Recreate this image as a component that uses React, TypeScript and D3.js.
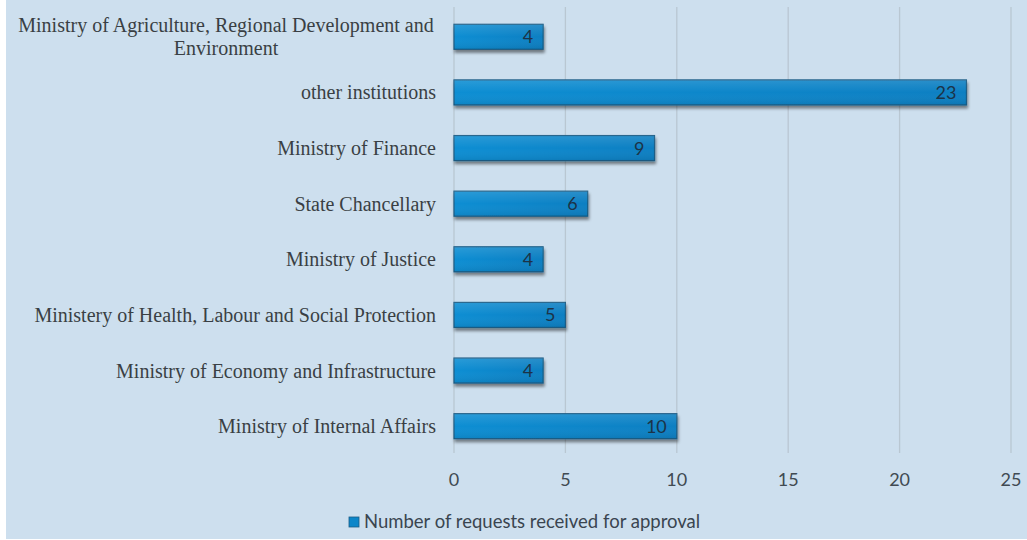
import React from "react";
import * as d3 from "d3";

const categories = [
  "Ministry of Agriculture, Regional Development and|Environment",
  "other institutions",
  "Ministry of Finance",
  "State Chancellary",
  "Ministry of Justice",
  "Ministery of Health, Labour and Social Protection",
  "Ministry of Economy and Infrastructure",
  "Ministry of Internal Affairs",
];
const values = [4, 23, 9, 6, 4, 5, 4, 10];
const xTicks = [0, 5, 10, 15, 20, 25];
const seriesName = "Number of requests received for approval";

const W = 1027;
const H = 540;
const M = { left: 454, right: 16, top: 9, bottom: 86 };

export default function App() {
  const x = d3.scaleLinear().domain([0, 25]).range([M.left, 1011]);
  const y = d3
    .scaleBand<string>()
    .domain(categories)
    .range([M.top, H - M.bottom])
    .paddingInner(0.55)
    .paddingOuter(0.275);
  const bh = y.bandwidth();
  const sans = "Lato, 'Open Sans', sans-serif";
  const serif = "'Liberation Serif', 'Times New Roman', serif";
  return (
    <svg
      width={W}
      height={H}
      style={{ position: "absolute", left: 0, top: 0 }}
    >
      <defs>
        <linearGradient id="barg" x1="0" y1="0" x2="1" y2="0">
          <stop offset="0" stopColor="#0f8ed3" />
          <stop offset="1" stopColor="#0a7fc2" />
        </linearGradient>
        <linearGradient id="barv" x1="0" y1="0" x2="0" y2="1">
          <stop offset="0" stopColor="#ffffff" stopOpacity="0.12" />
          <stop offset="0.5" stopColor="#ffffff" stopOpacity="0" />
          <stop offset="1" stopColor="#000000" stopOpacity="0.08" />
        </linearGradient>
        <filter id="shadow" x="-5%" y="-30%" width="110%" height="180%">
          <feDropShadow dx="1" dy="3" stdDeviation="1.5" floodColor="#000" floodOpacity="0.45" />
        </filter>
      </defs>
      <rect x={0} y={0} width={W} height={H} fill="#ffffff" />
      <rect x={6} y={0} width={W - 6} height={H - 1} fill="#cddfee" />
      {xTicks.map((t) => (
        <line
          key={"g" + t}
          x1={x(t)}
          x2={x(t)}
          y1={7}
          y2={453}
          stroke="#b9c7d2"
          strokeWidth={1.3}
        />
      ))}
      {categories.map((c, i) => {
        const yy = y(c)!;
        const v = values[i];
        return (
          <g key={c}>
            <g filter="url(#shadow)">
              <rect
                x={x(0)}
                y={yy}
                width={x(v) - x(0)}
                height={bh}
                fill="url(#barg)"
                stroke="#1b5d86"
                strokeWidth={1.2}
              />
            </g>
            <rect x={x(0)} y={yy} width={x(v) - x(0)} height={bh} fill="url(#barv)" />
            <text
              x={x(v) - 10}
              y={yy + bh / 2}
              dy="0.36em"
              textAnchor="end"
              fontFamily={sans}
              fontSize={18}
              fill="#1c3347"
            >
              {v}
            </text>
          </g>
        );
      })}
      {categories.map((c) => {
        const parts = c.split("|");
        const cy = y(c)! + bh / 2;
        if (parts.length === 1) {
          return (
            <text
              key={"l" + c}
              x={436}
              y={cy}
              dy="0.35em"
              textAnchor="end"
              fontFamily={serif}
              fontSize={20}
              fill="#3a3f44"
            >
              {c}
            </text>
          );
        }
        return (
          <text
            key={"l" + c}
            x={226}
            y={cy}
            textAnchor="middle"
            fontFamily={serif}
            fontSize={20}
            fill="#3a3f44"
          >
            <tspan x={226} dy="-0.25em">{parts[0]}</tspan>
            <tspan x={226} dy="1.15em">{parts[1]}</tspan>
          </text>
        );
      })}
      {xTicks.map((t) => (
        <text
          key={"t" + t}
          x={x(t)}
          y={480}
          dy="0.35em"
          textAnchor="middle"
          fontFamily={sans}
          fontSize={18}
          fill="#404a52"
        >
          {t}
        </text>
      ))}
      <rect x={349} y={517} width={10} height={10} fill="#0c86c9" stroke="#1b5d86" strokeWidth={0.8} />
      <text
        x={364}
        y={522}
        dy="0.35em"
        fontFamily={sans}
        fontSize={18.5}
        fill="#3a4550"
      >
        {seriesName}
      </text>
    </svg>
  );
}
